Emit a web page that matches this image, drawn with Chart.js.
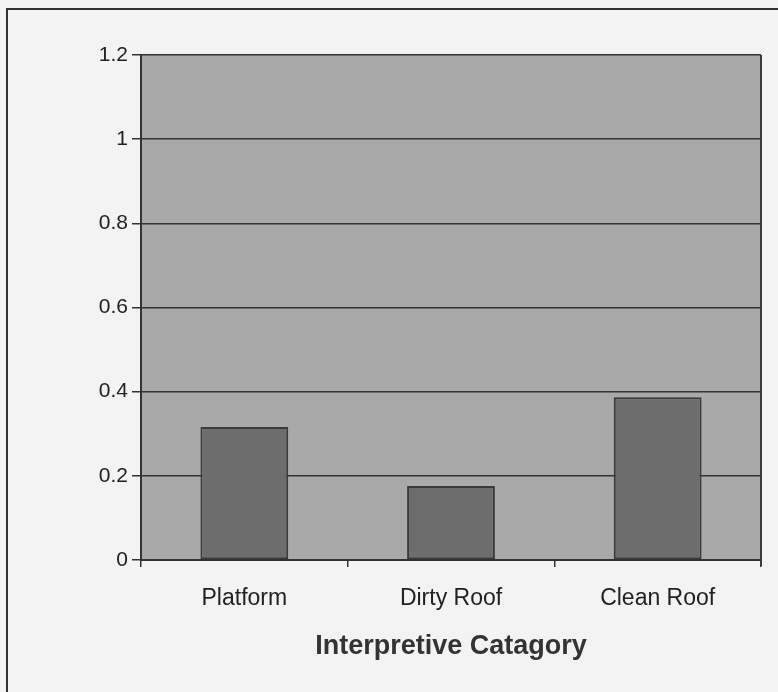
<!DOCTYPE html>
<html>
<head>
<meta charset="utf-8">
<script src="https://cdn.jsdelivr.net/npm/chart.js@4/dist/chart.umd.min.js"></script>
<style>
  html, body { margin: 0; padding: 0; background: #f3f3f3; }
  #wrap { position: absolute; left: 0; top: 0; width: 778px; height: 692px; }
  #frame { position: absolute; left: 6px; top: 8px; width: 790px; height: 700px;
           border-left: 2px solid #333; border-top: 2px solid #333; }
  canvas { position: absolute; left: 0; top: 0; }
</style>
</head>
<body>
<div id="wrap">
  <div id="frame"></div>
  <canvas id="c" width="778" height="692"></canvas>
</div>
<script>
const categories = ["Platform", "Dirty Roof", "Clean Roof"];
const values = [0.316, 0.176, 0.387];
const yTickLabels = ["0", "0.2", "0.4", "0.6", "0.8", "1", "1.2"];
const xAxisTitle = "Interpretive Catagory";

const plotBg = {
  id: 'plotBg',
  beforeDraw(chart) {
    const {ctx, chartArea: a} = chart;
    ctx.save();
    ctx.fillStyle = '#a9a9a9';
    ctx.fillRect(a.left, a.top, a.right - a.left, a.bottom - a.top);
    ctx.restore();
  },
  afterDraw(chart) {
    const {ctx, chartArea: a} = chart;
    ctx.save();
    ctx.strokeStyle = '#3a3a3a';
    ctx.lineWidth = 2;
    ctx.beginPath();
    ctx.moveTo(a.right, a.top);
    ctx.lineTo(a.right, a.bottom + 6);
    ctx.stroke();
    ctx.restore();
  }
};

new Chart(document.getElementById('c'), {
  type: 'bar',
  data: {
    labels: categories,
    datasets: [{
      data: values,
      backgroundColor: '#6d6d6d',
      borderColor: '#3a3a3a',
      borderWidth: 2,
      borderSkipped: false,
      barPercentage: 0.85,
      categoryPercentage: 0.5
    }]
  },
  options: {
    responsive: false,
    animation: false,
    devicePixelRatio: 1,
    layout: { padding: { left: 0, top: 55, right: 17, bottom: 0 } },
    plugins: { legend: { display: false }, tooltip: { enabled: false } },
    scales: {
      y: {
        min: 0, max: 1.2,
        ticks: {
          stepSize: 0.2,
          padding: 4,
          color: '#222',
          font: { family: 'Liberation Sans', size: 21 },
          callback: (v, i) => yTickLabels[i]
        },
        grid: { color: '#333', lineWidth: 1.5, tickLength: 9, drawTicks: true },
        border: { color: '#333', width: 2 },
        afterFit: s => { s.width = 141; }
      },
      x: {
        ticks: {
          padding: 18,
          color: '#222',
          font: { family: 'Liberation Sans', size: 23 }
        },
        grid: { drawOnChartArea: false, color: '#333', lineWidth: 1.5, tickLength: 7, offset: true },
        border: { color: '#333', width: 2 },
        title: {
          display: true,
          text: xAxisTitle,
          color: '#333',
          font: { family: 'Liberation Sans', size: 27, weight: 'bold' },
          padding: { top: 10, bottom: 29 }
        },
        afterFit: s => { s.height = 132; }
      }
    }
  },
  plugins: [plotBg]
});
</script>
</body>
</html>
